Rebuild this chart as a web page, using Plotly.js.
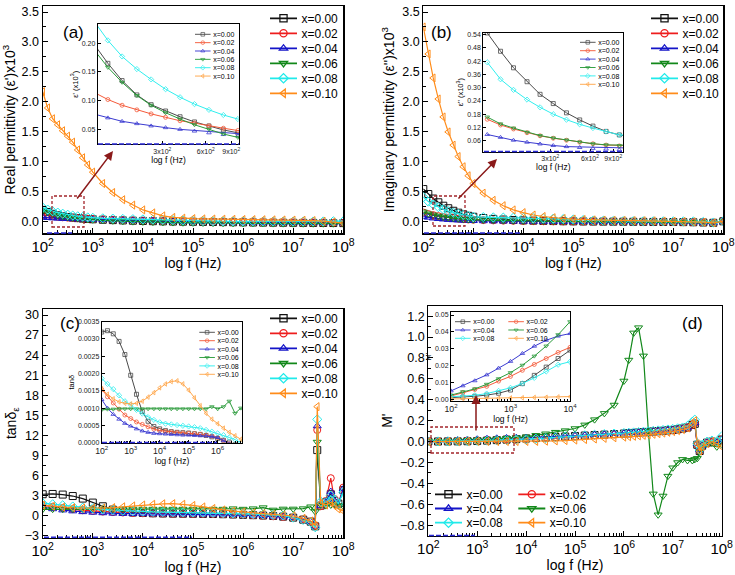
<!DOCTYPE html>
<html><head><meta charset="utf-8">
<script src="https://cdn.plot.ly/plotly-3.0.1.min.js"></script>
<style>html,body{margin:0;padding:0;background:#fff}</style>
</head><body><div id="chart" style="width:735px;height:575px"></div>
<script>
// ---------------- DATA ----------------
const seriesNames = ['x=0.00', 'x=0.02', 'x=0.04', 'x=0.06', 'x=0.08', 'x=0.10'];

// frequency sweep (Hz) for panels (a) and (b)
const freqAB = [100, 126, 158, 200, 251, 316, 398, 501, 631, 794, 1000, 1585, 2512, 3981, 6310,
  1e4, 1.585e4, 2.512e4, 3.981e4, 6.31e4, 1e5, 1.585e5, 2.512e5, 3.981e5, 6.31e5,
  1e6, 1.585e6, 2.512e6, 3.981e6, 6.31e6, 1e7, 1.585e7, 2.512e7, 3.981e7, 6.31e7, 1e8];

// (a) real permittivity (x10^3)
const epsR_x000 = [0.200, 0.165, 0.135, 0.110, 0.093, 0.082, 0.072, 0.063, 0.056, 0.049, 0.044, 0.036, 0.030, 0.025, 0.020, 0.016, 0.012, 0.009, 0.006, 0.004, 0.002, 0.000, -0.002, -0.004, -0.006, -0.008, -0.010, -0.012, -0.013, -0.014, -0.015, -0.016, -0.017, -0.018, -0.019, -0.020];
const epsR_x002 = [0.115, 0.102, 0.092, 0.084, 0.077, 0.071, 0.065, 0.061, 0.056, 0.052, 0.048, 0.042, 0.036, 0.031, 0.026, 0.022, 0.018, 0.014, 0.011, 0.008, 0.006, 0.004, 0.002, 0.000, -0.002, -0.004, -0.006, -0.008, -0.010, -0.011, -0.012, -0.013, -0.014, -0.015, -0.016, -0.017];
const epsR_x004 = [0.077, 0.070, 0.064, 0.060, 0.056, 0.053, 0.050, 0.047, 0.044, 0.041, 0.039, 0.034, 0.030, 0.026, 0.022, 0.018, 0.015, 0.012, 0.009, 0.006, 0.004, 0.002, 0.000, -0.002, -0.004, -0.006, -0.008, -0.010, -0.011, -0.012, -0.013, -0.014, -0.015, -0.016, -0.017, -0.018];
const epsR_x006 = [0.190, 0.158, 0.132, 0.109, 0.092, 0.079, 0.068, 0.058, 0.050, 0.042, 0.036, 0.026, 0.018, 0.011, 0.005, 0.000, -0.004, -0.008, -0.011, -0.014, -0.016, -0.018, -0.020, -0.022, -0.024, -0.025, -0.026, -0.027, -0.028, -0.029, -0.030, -0.030, -0.030, -0.030, -0.030, -0.030];
const epsR_x008 = [0.240, 0.205, 0.177, 0.155, 0.137, 0.120, 0.106, 0.094, 0.084, 0.075, 0.068, 0.060, 0.055, 0.050, 0.046, 0.042, 0.038, 0.033, 0.028, 0.022, 0.017, 0.013, 0.010, 0.008, 0.007, 0.006, 0.006, 0.006, 0.006, 0.006, 0.006, 0.006, 0.007, 0.008, 0.010, 0.012];
const epsR_x010 = [2.17, 1.90, 1.72, 1.62, 1.52, 1.43, 1.33, 1.20, 1.07, 0.95, 0.83, 0.64, 0.49, 0.37, 0.28, 0.20, 0.15, 0.10, 0.075, 0.062, 0.055, 0.050, 0.048, 0.045, 0.043, 0.040, 0.038, 0.036, 0.034, 0.032, 0.030, 0.027, 0.022, 0.012, 0.000, -0.020];

// (b) imaginary permittivity (x10^3)
const epsI_x000 = [0.548, 0.465, 0.390, 0.327, 0.270, 0.228, 0.186, 0.154, 0.126, 0.102, 0.086, 0.065, 0.050, 0.040, 0.032, 0.026, 0.021, 0.017, 0.014, 0.011, 0.009, 0.007, 0.006, 0.005, 0.004, 0.003, 0.002, 0.001, 0.000, -0.001, -0.002, -0.004, -0.006, -0.010, -0.015, 0.010];
const epsI_x002 = [0.157, 0.131, 0.113, 0.096, 0.082, 0.071, 0.062, 0.053, 0.046, 0.040, 0.036, 0.030, 0.025, 0.021, 0.018, 0.015, 0.013, 0.011, 0.009, 0.008, 0.007, 0.006, 0.005, 0.004, 0.003, 0.003, 0.002, 0.001, 0.000, -0.001, -0.002, -0.004, -0.006, -0.010, -0.015, 0.010];
const epsI_x004 = [0.088, 0.075, 0.062, 0.053, 0.045, 0.038, 0.033, 0.029, 0.025, 0.022, 0.019, 0.016, 0.013, 0.011, 0.009, 0.008, 0.007, 0.006, 0.005, 0.004, 0.004, 0.003, 0.003, 0.002, 0.002, 0.001, 0.001, 0.000, 0.000, -0.001, -0.002, -0.004, -0.006, -0.010, -0.015, 0.010];
const epsI_x006 = [0.167, 0.136, 0.117, 0.098, 0.083, 0.072, 0.063, 0.054, 0.046, 0.041, 0.037, 0.031, 0.026, 0.022, 0.019, 0.016, 0.014, 0.012, 0.010, 0.009, 0.008, 0.007, 0.006, 0.005, 0.004, 0.003, 0.002, 0.001, 0.000, -0.001, -0.002, -0.004, -0.006, -0.010, -0.015, 0.010];
const epsI_x008 = [0.415, 0.338, 0.290, 0.246, 0.211, 0.180, 0.155, 0.134, 0.117, 0.101, 0.086, 0.080, 0.075, 0.072, 0.070, 0.068, 0.065, 0.060, 0.055, 0.048, 0.040, 0.032, 0.024, 0.019, 0.015, 0.013, 0.012, 0.011, 0.011, 0.010, 0.010, 0.009, 0.008, 0.000, -0.010, 0.010];
const epsI_x010 = [3.25, 2.80, 2.40, 2.05, 1.75, 1.50, 1.28, 1.09, 0.92, 0.77, 0.64, 0.48, 0.36, 0.27, 0.20, 0.155, 0.115, 0.090, 0.070, 0.057, 0.048, 0.040, 0.033, 0.030, 0.027, 0.025, 0.022, 0.020, 0.018, 0.015, 0.012, 0.008, 0.003, -0.005, -0.015, 0.010];

// (c) loss tangent, frequency sweep (Hz)
const freqC = [100, 158, 251, 398, 631, 1000, 1585, 2512, 3981, 6310, 1e4, 1.585e4, 2.512e4, 3.981e4, 6.31e4,
  1e5, 1.585e5, 2.512e5, 3.981e5, 6.31e5, 1e6, 1.585e6, 2.512e6, 3.981e6, 6.31e6,
  1e7, 1.585e7, 2.239e7, 2.754e7, 3.02e7, 3.548e7, 4.467e7, 5.623e7, 6.607e7, 7.943e7, 1e8];
const tan_x000 = [3.20, 3.24, 3.15, 2.93, 2.55, 1.95, 1.40, 0.90, 0.62, 0.47, 0.40, 0.35, 0.32, 0.30, 0.29, 0.28, 0.26, 0.24, 0.21, 0.17, 0.12, 0.07, 0.02, -0.05, -0.15, -0.30, -0.60, -0.90, -1.60, 9.80, 1.50, 2.00, 3.20, 2.20, 1.80, 3.80];
const tan_x002 = [1.54, 1.33, 1.15, 0.97, 0.80, 0.70, 0.60, 0.53, 0.46, 0.39, 0.35, 0.33, 0.31, 0.29, 0.28, 0.27, 0.26, 0.24, 0.22, 0.19, 0.15, 0.06, -0.03, -0.10, -0.20, -0.30, -0.55, -0.90, -1.50, 12.8, 1.40, 2.20, 5.60, 2.50, 1.80, 4.20];
const tan_x004 = [1.25, 1.00, 0.82, 0.68, 0.56, 0.48, 0.40, 0.34, 0.30, 0.27, 0.26, 0.25, 0.24, 0.23, 0.22, 0.22, 0.21, 0.20, 0.20, 0.18, 0.15, 0.06, -0.03, -0.10, -0.20, -0.30, -0.55, -0.90, -1.60, 13.4, 1.50, 2.00, 3.60, 2.30, 1.60, 4.00];
const tan_x006 = [0.95, 0.97, 0.97, 0.98, 0.98, 0.98, 0.98, 0.98, 0.98, 0.98, 0.98, 0.98, 0.98, 0.98, 0.98, 0.98, 0.98, 0.98, 0.98, 1.04, 0.98, 1.04, 1.20, 0.85, 1.00, 1.00, 1.05, 1.33, 0.60, 11.0, 1.60, 1.50, 1.60, 1.70, 1.50, 1.40];
const tan_x008 = [1.86, 1.70, 1.55, 1.37, 1.20, 1.10, 0.95, 0.84, 0.74, 0.66, 0.59, 0.55, 0.53, 0.51, 0.49, 0.47, 0.45, 0.42, 0.37, 0.32, 0.27, 0.22, 0.15, 0.09, 0.00, -0.30, -0.65, -1.00, -1.74, 14.4, 2.10, 2.00, 3.00, 2.40, 1.80, 3.50];
const tan_x010 = [1.56, 1.40, 1.27, 1.18, 1.14, 1.12, 1.14, 1.20, 1.32, 1.45, 1.59, 1.70, 1.77, 1.79, 1.70, 1.52, 1.30, 1.07, 0.85, 0.68, 0.55, 0.42, 0.30, 0.20, 0.10, -0.05, -0.40, -0.80, -1.50, 16.3, 1.80, 1.60, 2.00, 1.50, 1.00, 0.70];
const tanInsetUnit = 1e-3;   // inset shows the same loss tangent in raw units

// (d) real electric modulus M'
const freqD = [100, 158, 251, 398, 631, 1000, 1585, 2512, 3981, 6310, 1e4, 1.585e4, 2.512e4, 3.981e4, 6.31e4,
  1e5, 1.585e5, 2.512e5, 3.981e5, 6.31e5, 1e6, 1.259e6, 1.585e6, 1.995e6, 2.512e6, 3.162e6, 3.981e6, 5.012e6,
  6.31e6, 7.943e6, 1e7, 1.259e7, 1.585e7, 1.995e7, 2.512e7, 2.818e7, 3.162e7, 3.548e7, 3.981e7, 5.012e7, 6.31e7, 7.943e7, 1e8];
const M_x000 = [0.0010, 0.0013, 0.0018, 0.0025, 0.0036, 0.0055, 0.0093, 0.0142, 0.0191, 0.0242, 0.0292, 0.034, 0.039, 0.044, 0.049, 0.054, 0.058, 0.063, 0.067, 0.072, 0.077, 0.080, 0.083, 0.086, 0.090, 0.093, 0.097, 0.100, 0.104, 0.108, 0.112, 0.118, 0.125, 0.135, 0.160, 0.170, -0.030, -0.090, -0.040, -0.010, 0.000, -0.010, 0.020];
const M_x002 = [0.0020, 0.0040, 0.0058, 0.0077, 0.0108, 0.0136, 0.0172, 0.0207, 0.0242, 0.0278, 0.0308, 0.034, 0.038, 0.042, 0.046, 0.050, 0.055, 0.060, 0.064, 0.069, 0.074, 0.077, 0.080, 0.083, 0.087, 0.090, 0.094, 0.098, 0.102, 0.106, 0.110, 0.116, 0.123, 0.134, 0.160, 0.175, -0.030, -0.090, -0.040, -0.010, 0.000, -0.010, 0.020];
const M_x004 = [0.0050, 0.0080, 0.0110, 0.0145, 0.0185, 0.0225, 0.0272, 0.0315, 0.0350, 0.0375, 0.0390, 0.042, 0.045, 0.049, 0.053, 0.057, 0.061, 0.066, 0.070, 0.075, 0.080, 0.083, 0.086, 0.089, 0.092, 0.095, 0.098, 0.101, 0.105, 0.109, 0.113, 0.118, 0.125, 0.135, 0.165, 0.180, -0.020, -0.080, -0.040, -0.010, 0.000, -0.010, 0.020];
const M_x006 = [0.0025, 0.0045, 0.0062, 0.0089, 0.0122, 0.0158, 0.0202, 0.0256, 0.0316, 0.0383, 0.0460, 0.060, 0.075, 0.090, 0.105, 0.125, 0.160, 0.210, 0.270, 0.350, 0.580, 0.780, 1.040, 1.090, 0.820, 0.100, -0.500, -0.700, -0.520, -0.330, -0.250, -0.200, -0.170, -0.180, -0.180, -0.170, -0.160, -0.100, -0.050, -0.020, -0.015, -0.050, -0.030];
const M_x008 = [0.0015, 0.0019, 0.0024, 0.0034, 0.0050, 0.0068, 0.0094, 0.0127, 0.0165, 0.0205, 0.0223, 0.028, 0.034, 0.041, 0.048, 0.054, 0.060, 0.066, 0.072, 0.077, 0.082, 0.085, 0.088, 0.091, 0.095, 0.099, 0.103, 0.107, 0.111, 0.116, 0.121, 0.127, 0.135, 0.150, 0.190, 0.210, -0.020, -0.080, -0.030, 0.000, 0.010, 0.000, 0.050];
const M_x010 = [0.0002, 0.0003, 0.0004, 0.0005, 0.0006, 0.0008, 0.0009, 0.0011, 0.0012, 0.0014, 0.0016, 0.002, 0.004, 0.007, 0.010, 0.015, 0.020, 0.025, 0.031, 0.037, 0.043, 0.047, 0.051, 0.055, 0.060, 0.065, 0.070, 0.076, 0.082, 0.089, 0.096, 0.105, 0.115, 0.130, 0.170, 0.200, -0.020, -0.090, -0.050, -0.020, 0.000, -0.020, -0.050];

// inset tick labels for (a) and (b)
const insetAbTickVals = [300, 600, 900];
const insetAbTickText = ['3x10<sup>2</sup>', '6x10<sup>2</sup>', '9x10<sup>2</sup>'];

// ---------------- STYLE ----------------
const FONT = 'Liberation Sans, Arial, sans-serif';
const mainColors = ['#111111', '#ee1d1d', '#1414c8', '#12881a', '#20eaea', '#ff8c1a'];
const insetColors = ['#4a4a4a', '#f45a3a', '#3a3ad0', '#2a9a3a', '#30eeee', '#ffa64a'];
const symbols = ['square-open', 'circle-open', 'triangle-up-open', 'triangle-down-open', 'diamond-open', 'triangle-left-open'];
const W = 735, H = 575;
const dx = (a, b) => [a / W, b / W];
const dy = (top, bottom) => [1 - bottom / H, 1 - top / H];

const panels = [
  {x: freqAB, ys: [epsR_x000, epsR_x002, epsR_x004, epsR_x006, epsR_x008, epsR_x010], main: ['x', 'y'], inset: ['x5', 'y5'], unit: 1,
   legMain: i => 'legend', legInset: i => 'legend6'},
  {x: freqAB, ys: [epsI_x000, epsI_x002, epsI_x004, epsI_x006, epsI_x008, epsI_x010], main: ['x2', 'y2'], inset: ['x6', 'y6'], unit: 1,
   legMain: i => 'legend2', legInset: i => 'legend7'},
  {x: freqC, ys: [tan_x000, tan_x002, tan_x004, tan_x006, tan_x008, tan_x010], main: ['x3', 'y3'], inset: ['x7', 'y7'], unit: tanInsetUnit,
   legMain: i => 'legend3', legInset: i => 'legend8'},
  {x: freqD, ys: [M_x000, M_x002, M_x004, M_x006, M_x008, M_x010], main: ['x4', 'y4'], inset: ['x8', 'y8'], unit: 1,
   legMain: i => (i % 2 === 0 ? 'legend4' : 'legend5'), legInset: i => (i % 2 === 0 ? 'legend9' : 'legend10')},
];

const traces = [];
panels.forEach(p => {
  p.ys.forEach((ys, i) => {
    traces.push({
      type: 'scatter', mode: 'lines+markers', x: p.x, y: ys, xaxis: p.main[0], yaxis: p.main[1],
      name: seriesNames[i], showlegend: false,
      line: {color: mainColors[i], width: 1.2},
      marker: {symbol: symbols[i], size: 7, color: mainColors[i], line: {width: 1, color: mainColors[i]}}
    });
    traces.push({
      type: 'scatter', mode: 'lines+markers', x: p.x, y: ys.map(v => v * p.unit), xaxis: p.inset[0], yaxis: p.inset[1],
      name: seriesNames[i], showlegend: false,
      line: {color: insetColors[i], width: 1},
      marker: {symbol: symbols[i], size: 4, color: insetColors[i], line: {width: 0.8, color: insetColors[i]}}
    });
  });
});
// legend keys (no drawn points)
panels.forEach(p => {
  seriesNames.forEach((nm, i) => {
    traces.push({type: 'scatter', mode: 'lines+markers', x: [null], y: [null], xaxis: p.main[0], yaxis: p.main[1],
      name: nm, legend: p.legMain(i), showlegend: true,
      line: {color: mainColors[i], width: 2},
      marker: {symbol: symbols[i], size: 8, color: mainColors[i], line: {width: 1.4, color: mainColors[i]}}});
    traces.push({type: 'scatter', mode: 'lines+markers', x: [null], y: [null], xaxis: p.inset[0], yaxis: p.inset[1],
      name: nm, legend: p.legInset(i), showlegend: true,
      line: {color: insetColors[i], width: 1.8},
      marker: {symbol: symbols[i], size: 7, color: insetColors[i], line: {width: 1.3, color: insetColors[i]}}});
  });
});

function ax(o) {
  return Object.assign({
    showline: true, linecolor: '#000', linewidth: 1.2, mirror: true,
    ticks: 'inside', ticklen: 5, tickwidth: 1, tickcolor: '#000',
    showgrid: false, zeroline: false, fixedrange: true, ticklabeloverflow: 'allow',
    tickfont: {family: FONT, size: 12.5, color: '#000'}
  }, o);
}
function mainX(domain, anchor) {
  return ax({domain, anchor, type: 'log', range: [2, 8], dtick: 1, exponentformat: 'power',
    tickfont: {family: FONT, size: 12, color: '#000'},
    minor: {ticks: 'inside', ticklen: 3, tickcolor: '#000', dtick: 'D1'},
    title: {text: 'log f (Hz)', font: {family: FONT, size: 14, color: '#000'}, standoff: 1}});
}
function mainY(domain, anchor, range, dtick, minor, fmt, title) {
  return ax({domain, anchor, range, dtick, tick0: 0, tickformat: fmt,
    minor: {ticks: 'inside', ticklen: 3, tickcolor: '#000', dtick: minor},
    title: {text: title, font: {family: FONT, size: 14, color: '#000'}, standoff: 4}});
}
function insetAx(o) {
  return ax(Object.assign({linewidth: 1, ticklen: 3, tickfont: {family: FONT, size: 7, color: '#222'}}, o));
}
const insetXTitle = {text: 'log f (Hz)', font: {family: FONT, size: 8.5, color: '#000'}, standoff: 2};
const insetYTitle = t => ({text: t, font: {family: FONT, size: 7.5, color: '#000'}, standoff: 2});

function legendBox(size) {
  return {font: {family: FONT, size, color: '#000'}, bgcolor: 'rgba(0,0,0,0)', borderwidth: 0,
    xanchor: 'left', yanchor: 'top', x: 0.5, y: 0.5, orientation: 'v', itemclick: false, itemdoubleclick: false};
}

const zoomBox = {color: '#a3242a', width: 1.3, dash: '3px,2px'};
const axisArtifact = {color: '#2b2bd6', width: 1.6, dash: '5px,2px'};

const layout = {
  width: W, height: H, paper_bgcolor: '#fff', plot_bgcolor: '#fff',
  margin: {l: 0, r: 0, t: 0, b: 0, autoexpand: false},
  font: {family: FONT, color: '#000'},
  xaxis: mainX(dx(42.7, 343.3), 'y'),
  yaxis: mainY(dy(6, 233.3), 'x', [-0.19, 3.6], 0.5, 0.25, '.1f', "Real permittivity (ε')x10<sup>3</sup>"),
  xaxis2: mainX(dx(423.3, 723.3), 'y2'),
  yaxis2: mainY(dy(6, 233.3), 'x2', [-0.19, 3.6], 0.5, 0.25, '.1f', "Imaginary permittivity (ε'')x10<sup>3</sup>"),
  xaxis3: mainX(dx(42.7, 343.3), 'y3'),
  yaxis3: mainY(dy(309, 537.5), 'x3', [-3.27, 30.9], 3, 1.5, 'd', 'tanδ<sub>ε</sub>'),
  xaxis4: mainX(dx(428.3, 721.7), 'y4'),
  yaxis4: mainY(dy(305.7, 535.7), 'x4', [-0.9, 1.3], 0.2, 0.1, '.1f', "M'"),
  xaxis5: insetAx({domain: dx(97.7, 239.3), anchor: 'y5', type: 'log', range: [2.03, 3.01],
    tickmode: 'array', tickvals: insetAbTickVals, ticktext: insetAbTickText, title: insetXTitle}),
  yaxis5: insetAx({domain: dy(24.3, 144.3), anchor: 'x5', range: [0.024, 0.233], dtick: 0.05, tick0: 0, tickformat: '.2f',
    title: insetYTitle("ε' (x10<sup>3</sup>)")}),
  xaxis6: insetAx({domain: dx(483.3, 623.3), anchor: 'y6', type: 'log', range: [1.97, 3.03],
    tickmode: 'array', tickvals: insetAbTickVals, ticktext: insetAbTickText, title: insetXTitle}),
  yaxis6: insetAx({domain: dy(32.7, 151.7), anchor: 'x6', range: [0.01, 0.549], dtick: 0.06, tick0: 0, tickformat: '.2f',
    title: insetYTitle("ε'' (x10<sup>3</sup>)")}),
  xaxis7: insetAx({domain: dx(101.7, 242.3), anchor: 'y7', type: 'log', range: [2, 6.85], dtick: 1, exponentformat: 'power',
    minor: {ticks: 'inside', ticklen: 2, tickcolor: '#000', dtick: 'D1'}, title: insetXTitle}),
  yaxis7: insetAx({domain: dy(321.7, 442.7), anchor: 'x7', range: [0, 0.0035], dtick: 0.0005, tick0: 0, tickformat: '.4f',
    title: insetYTitle('tanδ')}),
  xaxis8: insetAx({domain: dx(451, 570), anchor: 'y8', type: 'log', range: [2, 4], dtick: 1, exponentformat: 'power',
    minor: {ticks: 'inside', ticklen: 2, tickcolor: '#000', dtick: 'D1'}, title: insetXTitle}),
  yaxis8: insetAx({domain: dy(312.3, 401), anchor: 'x8', range: [-0.001, 0.0516], dtick: 0.01, tick0: 0, tickformat: '.2f',
    title: insetYTitle("M'")}),
  legend: legendBox(13.3), legend2: legendBox(13.3), legend3: legendBox(13.3), legend4: legendBox(13.3), legend5: legendBox(13.3),
  legend6: legendBox(13.5), legend7: legendBox(13.5), legend8: legendBox(13.5), legend9: legendBox(13.5), legend10: legendBox(13.5),
  shapes: [
    {type: 'rect', xref: 'paper', yref: 'paper', x0: 52 / W, x1: 84 / W, y0: 1 - 227 / H, y1: 1 - 196 / H, line: zoomBox, layer: 'above'},
    {type: 'rect', xref: 'paper', yref: 'paper', x0: 433 / W, x1: 465 / W, y0: 1 - 226 / H, y1: 1 - 196 / H, line: zoomBox, layer: 'above'},
    {type: 'rect', xref: 'paper', yref: 'paper', x0: 431 / W, x1: 514 / W, y0: 1 - 453 / H, y1: 1 - 427 / H, line: zoomBox, layer: 'above'},
    // blue dashed remnants visible along the lower axes in the original figure
    {type: 'line', xref: 'paper', yref: 'paper', x0: 47 / W, x1: 72 / W, y0: 1 - 233 / H, y1: 1 - 233 / H, line: axisArtifact},
    {type: 'line', xref: 'paper', yref: 'paper', x0: 424 / W, x1: 522 / W, y0: 1 - 233 / H, y1: 1 - 233 / H, line: axisArtifact},
    {type: 'line', xref: 'paper', yref: 'paper', x0: 44 / W, x1: 192 / W, y0: 1 - 537.3 / H, y1: 1 - 537.3 / H, line: axisArtifact},
    {type: 'line', xref: 'paper', yref: 'paper', x0: 429 / W, x1: 475 / W, y0: 1 - 535.5 / H, y1: 1 - 535.5 / H, line: axisArtifact},
    {type: 'line', xref: 'paper', yref: 'paper', x0: 98 / W, x1: 239 / W, y0: 1 - 144 / H, y1: 1 - 144 / H, line: axisArtifact},
    {type: 'line', xref: 'paper', yref: 'paper', x0: 484 / W, x1: 623 / W, y0: 1 - 151.5 / H, y1: 1 - 151.5 / H, line: axisArtifact},
    {type: 'line', xref: 'paper', yref: 'paper', x0: 102 / W, x1: 217 / W, y0: 1 - 442.5 / H, y1: 1 - 442.5 / H, line: axisArtifact}
  ],
  annotations: [
    {xref: 'paper', yref: 'paper', x: 61 / W, y: 1 - 21 / H, text: '(a)', showarrow: false, font: {family: FONT, size: 17}},
    {xref: 'paper', yref: 'paper', x: 441 / W, y: 1 - 21 / H, text: '(b)', showarrow: false, font: {family: FONT, size: 17}},
    {xref: 'paper', yref: 'paper', x: 58 / W, y: 1 - 323 / H, text: '(c)', showarrow: false, font: {family: FONT, size: 17}},
    {xref: 'paper', yref: 'paper', x: 705 / W, y: 1 - 323 / H, text: '(d)', showarrow: false, font: {family: FONT, size: 17}},
    {xref: 'paper', yref: 'paper', x: 113 / W, y: 1 - 151 / H, ax: -37, ay: 49, text: '', showarrow: true,
     arrowhead: 2, arrowsize: 1.2, arrowwidth: 1.5, arrowcolor: '#8b1a1a', standoff: 0},
    {xref: 'paper', yref: 'paper', x: 497 / W, y: 1 - 159 / H, ax: -40, ay: 41, text: '', showarrow: true,
     arrowhead: 2, arrowsize: 1.2, arrowwidth: 1.5, arrowcolor: '#8b1a1a', standoff: 0},
    {xref: 'paper', yref: 'paper', x: 476 / W, y: 1 - 395 / H, ax: 0, ay: 37, text: '', showarrow: true,
     arrowhead: 2, arrowsize: 1.2, arrowwidth: 1.5, arrowcolor: '#8b1a1a', standoff: 0}
  ]
};

// pixel placement of legends: line start x, first row centre y, row pitch, scale
const legendPlace = {
  legend:   {lx: 270,   cy: 18.3,  row: 15,   s: 0.9},
  legend2:  {lx: 651,   cy: 18.3,  row: 15,   s: 0.9},
  legend3:  {lx: 270,   cy: 318.3, row: 15,   s: 0.9},
  legend4:  {lx: 435,   cy: 494.3, row: 14.2, s: 0.9},
  legend5:  {lx: 518.3, cy: 494.3, row: 14.2, s: 0.9},
  legend6:  {lx: 195,   cy: 34.3,  row: 8.35, s: 0.52},
  legend7:  {lx: 580,   cy: 42.3,  row: 8.4,  s: 0.52},
  legend8:  {lx: 199.3, cy: 332.3, row: 8.4,  s: 0.52},
  legend9:  {lx: 455,   cy: 321.7, row: 8.3,  s: 0.52},
  legend10: {lx: 508.3, cy: 321.7, row: 8.3,  s: 0.52}
};

const gd = document.getElementById('chart');
Plotly.newPlot(gd, traces, layout, {staticPlot: true, displayModeBar: false}).then(() => {
  const re = /translate\(\s*([-\d.e]+)[ ,]+([-\d.e]+)\s*\)/;
  Object.keys(legendPlace).forEach(id => {
    const g = gd.querySelector('.infolayer > g.' + id);
    if (!g) return;
    const P = legendPlace[id];
    const items = g.querySelectorAll('g.traces');
    if (!items.length) return;
    const m = re.exec(items[0].getAttribute('transform') || '');
    const x0 = m ? parseFloat(m[1]) : 0, y0 = m ? parseFloat(m[2]) : 14.5;
    items.forEach((it, i) => it.setAttribute('transform', `translate(${x0},${y0 + i * P.row / P.s})`));
    const tx = P.lx - (x0 + 5) * P.s, ty = P.cy - y0 * P.s;
    g.setAttribute('transform', `translate(${tx},${ty}) scale(${P.s})`);
  });
});
</script></body></html>
